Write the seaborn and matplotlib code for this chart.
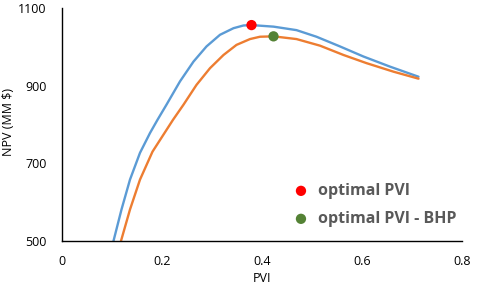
import numpy as np
import pandas as pd
import matplotlib
matplotlib.use('Agg')
import matplotlib.pyplot as plt
import seaborn as sns

# NPV curves
pvi_base = [0.103, 0.119, 0.136, 0.156, 0.176, 0.191, 0.209, 0.236, 0.263, 0.289, 0.316, 0.343,
            0.363, 0.379, 0.423, 0.469, 0.509, 0.556, 0.603, 0.656, 0.713]
npv_base = [500, 581, 658, 727, 778, 812, 851, 911, 962, 1001, 1031, 1048,
            1055, 1056, 1052, 1043, 1026, 1001, 975, 949, 923]
pvi_bhp = [0.118, 0.136, 0.156, 0.181, 0.205, 0.222, 0.243, 0.269, 0.296, 0.323, 0.349, 0.376,
           0.396, 0.423, 0.469, 0.516, 0.563, 0.609, 0.663, 0.713]
npv_bhp = [500, 581, 658, 730, 778, 812, 851, 902, 945, 979, 1005, 1020,
           1026, 1027, 1020, 1003, 979, 958, 936, 918]

opt_pvi = [0.379]
opt_npv = [1056]
opt_pvi_bhp = [0.423]
opt_npv_bhp = [1027]

x_ticks = [0, 0.2, 0.4, 0.6, 0.8]
x_tick_labels = ['0', '0.2', '0.4', '0.6', '0.8']
y_ticks = [500, 700, 900, 1100]

sns.set_theme(style='white')
plt.rcParams['font.family'] = ['Open Sans', 'DejaVu Sans']

df_base = pd.DataFrame({'PVI': pvi_base, 'NPV': npv_base})
df_bhp = pd.DataFrame({'PVI': pvi_bhp, 'NPV': npv_bhp})

fig = plt.figure(figsize=(4.85, 2.92), dpi=100)
ax = fig.add_axes([0.1278, 0.1747, 0.8248, 0.7979])

sns.lineplot(data=df_base, x='PVI', y='NPV', ax=ax, color='#5B9BD5', linewidth=1.7,
             estimator=None, solid_joinstyle='round')
sns.lineplot(data=df_bhp, x='PVI', y='NPV', ax=ax, color='#ED7D31', linewidth=1.7,
             estimator=None, solid_joinstyle='round')
sns.scatterplot(x=opt_pvi, y=opt_npv, ax=ax, color='#FF0000', s=55, edgecolor='none',
                label='optimal PVI', zorder=5)
sns.scatterplot(x=opt_pvi_bhp, y=opt_npv_bhp, ax=ax, color='#548235', s=55, edgecolor='none',
                label='optimal PVI - BHP', zorder=5)

ax.set_xlim(0, 0.8)
ax.set_ylim(500, 1100)
ax.set_xticks(x_ticks)
ax.set_xticklabels(x_tick_labels)
ax.set_yticks(y_ticks)
ax.tick_params(axis='both', length=0, labelsize=9, colors='black')
ax.tick_params(axis='x', pad=10)
ax.tick_params(axis='y', pad=11)

for side in ['top', 'right']:
    ax.spines[side].set_visible(False)
for side in ['left', 'bottom']:
    ax.spines[side].set_color('black')
    ax.spines[side].set_linewidth(1.0)

ax.set_xlabel('PVI', fontsize=9, color='black')
ax.set_ylabel('NPV (MM $)', fontsize=9, color='black')
ax.xaxis.set_label_coords(0.5, -0.133)
ax.yaxis.set_label_coords(-0.118, 0.51)

leg = ax.legend(loc='upper left', bbox_to_anchor=(0.5575, 0.283), frameon=False,
                borderpad=0, handlelength=1.0, handletextpad=0.55, labelspacing=0.75,
                prop={'weight': 'bold', 'size': 11.5})
for t in leg.get_texts():
    t.set_color('#595959')

fig.savefig('out.png', dpi=100)
